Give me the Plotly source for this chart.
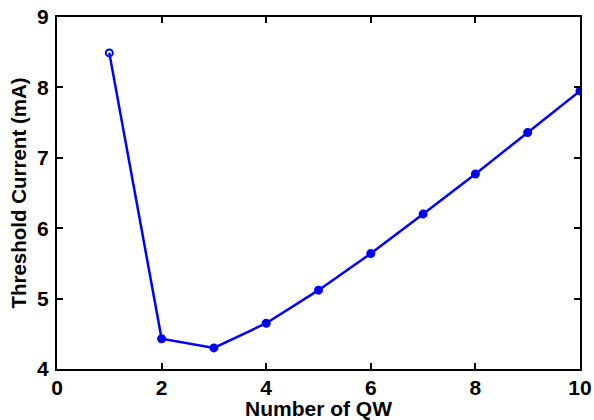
import plotly.graph_objects as go

num_qw = [1, 2, 3, 4, 5, 6, 7, 8, 9, 10]
threshold_ma = [8.49, 4.43, 4.30, 4.65, 5.12, 5.64, 6.20, 6.77, 7.36, 7.95]
marker_symbols = ["circle-open"] + ["circle"] * 9

x_ticks = [0, 2, 4, 6, 8, 10]
y_ticks = [4, 5, 6, 7, 8, 9]

fig = go.Figure()
fig.add_trace(go.Scatter(
    x=num_qw, y=threshold_ma, mode="lines+markers",
    line=dict(color="#0000ff", width=2.5),
    marker=dict(color="#0000ff", size=7, symbol=marker_symbols, line=dict(color="#0000ff", width=2)),
    showlegend=False,
))

fam = "Liberation Sans"
axis_common = dict(
    showline=True, linecolor="black", linewidth=2, mirror="ticks",
    ticks="inside", ticklen=6, tickwidth=1.5, tickcolor="black",
    showgrid=False, zeroline=False, automargin=False,
    tickfont=dict(family=fam, size=21, color="black", weight=700),
)
fig.update_layout(
    width=594, height=420,
    margin=dict(l=57, r=14, t=17, b=51),
    plot_bgcolor="white", paper_bgcolor="white",
    font=dict(family=fam, size=19, color="black", weight=700),
    xaxis=dict(range=[0, 10], tickvals=x_ticks,
               title=dict(text="Number of QW", standoff=0,
                          font=dict(size=21, weight=700)), ticklabelstandoff=-1, **axis_common),
    yaxis=dict(range=[4, 9], tickvals=y_ticks,
               title=dict(text="Threshold Current (mA)", standoff=5,
                          font=dict(size=20.5, weight=700)), ticklabelstandoff=2, **axis_common),
)
fig.write_html("out.html")
